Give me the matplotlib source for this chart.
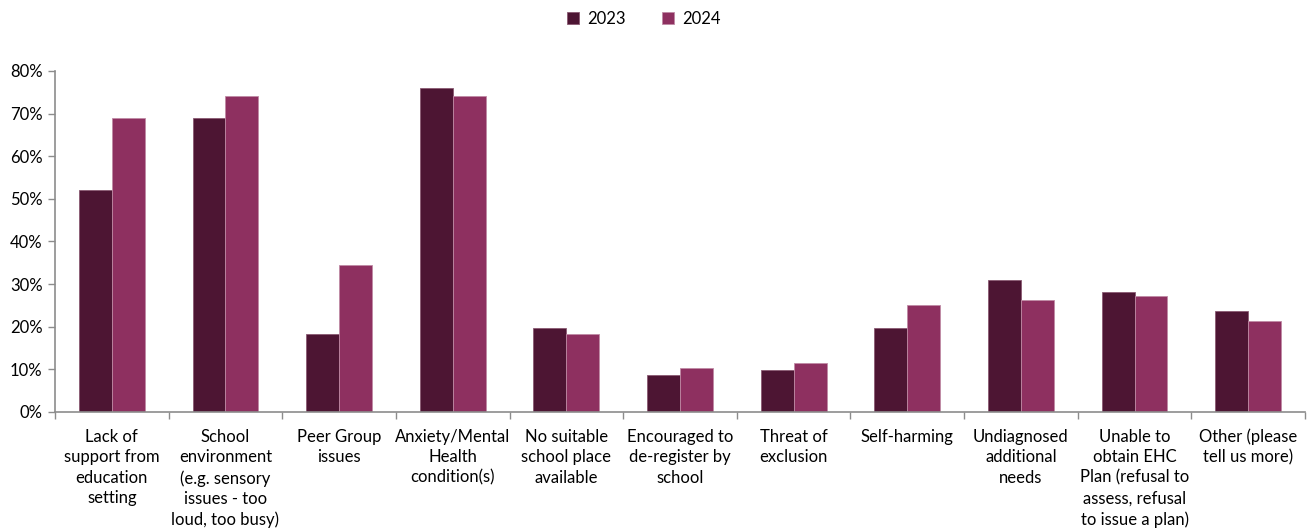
import matplotlib
matplotlib.use("Agg")
import matplotlib.pyplot as plt
import matplotlib.ticker as mticker
import numpy as np

# ── Data ─────────────────────────────────────────────────────────────────────
categories = [
    "Lack of\nsupport from\neducation\nsetting",
    "School\nenvironment\n(e.g. sensory\nissues - too\nloud, too busy)",
    "Peer Group\nissues",
    "Anxiety/Mental\nHealth\ncondition(s)",
    "No suitable\nschool place\navailable",
    "Encouraged to\nde-register by\nschool",
    "Threat of\nexclusion",
    "Self-harming",
    "Undiagnosed\nadditional\nneeds",
    "Unable to\nobtain EHC\nPlan (refusal to\nassess, refusal\nto issue a plan)",
    "Other (please\ntell us more)",
]
vals_2023 = [52.0, 69.0, 18.3, 76.0, 19.6, 8.6, 9.8, 19.6, 30.9, 28.1, 23.8]
vals_2024 = [69.0, 74.2, 34.6, 74.2, 18.4, 10.4, 11.6, 25.1, 26.3, 27.2, 21.4]
series_labels = ["2023", "2024"]
y_ticks = [0, 10, 20, 30, 40, 50, 60, 70, 80]

# ── Plot ─────────────────────────────────────────────────────────────────────
plt.rcParams["font.family"] = ["Lato", "DejaVu Sans"]
c23, c24 = "#4D1533", "#8E3060"
grey = "#8C8C8C"

fig = plt.figure(figsize=(13.13, 5.29), dpi=100)
ax = fig.add_axes([0.0419, 0.2212, 0.952, 0.6446])

x = np.arange(len(categories))
w = 0.29
ax.bar(x - w / 2, vals_2023, w, color=c23, edgecolor="#8a5a72", linewidth=0.6, label=series_labels[0])
ax.bar(x + w / 2, vals_2024, w, color=c24, edgecolor="#c08aa5", linewidth=0.6, label=series_labels[1])

ax.set_xlim(-0.5, len(categories) - 0.5)
ax.set_ylim(0, 80)
ax.set_yticks(y_ticks)
ax.yaxis.set_major_formatter(mticker.FuncFormatter(lambda v, p: f"{v:.0f}%"))

# boundary ticks (major) and centred labels (minor)
ax.set_xticks(np.arange(-0.5, len(categories) + 0.5, 1.0))
ax.set_xticklabels([])
ax.set_xticks(x, minor=True)
ax.set_xticklabels(categories, minor=True, fontsize=12, linespacing=1.35, va="top")
ax.tick_params(axis="x", which="minor", length=0, pad=12)
ax.tick_params(axis="x", which="major", length=5, color=grey, width=1)
ax.tick_params(axis="y", length=5, color=grey, width=1, labelsize=12, pad=4)

for side in ["top", "right"]:
    ax.spines[side].set_visible(False)
for side in ["left", "bottom"]:
    ax.spines[side].set_color(grey)
    ax.spines[side].set_linewidth(1.2)

ax.legend(loc="center", bbox_to_anchor=(0.471, 1.152), ncol=2, frameon=False,
          fontsize=12, handlelength=0.7, handleheight=0.7, columnspacing=2.2, handletextpad=0.5,
          borderpad=0)

plt.savefig("out.png", dpi=100)
plt.close()
